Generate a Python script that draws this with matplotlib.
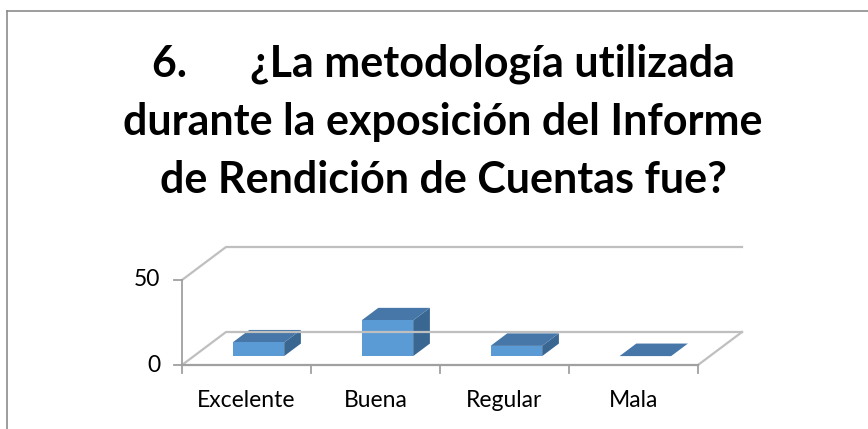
import matplotlib
matplotlib.use('Agg')
import matplotlib.pyplot as plt
from matplotlib.patches import Polygon
from matplotlib.lines import Line2D

# datos del grafico
categories = ['Excelente', 'Buena', 'Regular', 'Mala']
values = [8, 21, 6, 0]
y_ticks = [0, 50]
title_lines = ['6.      ¿La metodología utilizada',
               'durante la exposición del Informe',
               'de Rendición de Cuentas fue?']

W, H = 868, 429

# geometria de la vista "3D" (en unidades de datos)
X0_PX, CAT_PX = 182, 129        # eje de valores y ancho de categoria en pixeles
Y0_PX, UNIT_PX = 64, 85 / 50    # linea del cero (desde abajo) y pixeles por unidad
DX, DY = 44 / CAT_PX, 33 / UNIT_PX   # profundidad del piso
Z0, Z1 = 0.27, 0.65             # profundidad de la barra (frente, fondo)
BAR_W = 0.40

front_col = '#5B9BD5'
top_col = '#4677A8'
side_col = '#3A6692'
grid_col = '#BFBFBF'
axis_col = '#A0A0A0'

fig = plt.figure(figsize=(W / 100, H / 100), dpi=100)
ax = fig.add_axes([0, 0, 1, 1])
ax.set_xlim(-X0_PX / CAT_PX, (W - X0_PX) / CAT_PX)
ax.set_ylim(-Y0_PX / UNIT_PX, (H - Y0_PX) / UNIT_PX)
ax.axis('off')

n = len(categories)
ymax = y_ticks[-1]

# paredes: lineas de la cuadricula
for t in y_ticks:
    ax.plot([0, DX, n + DX], [t, t + DY, t + DY], color=grid_col, lw=1.6,
            solid_joinstyle='miter')
ax.plot([n, n + DX], [0, DY], color=grid_col, lw=1.6)

# eje de valores
ax.plot([0, 0], [0, ymax], color=axis_col, lw=1.3)
for t in y_ticks:
    ax.plot([-8 / CAT_PX, 0], [t, t], color=axis_col, lw=1.3)
    ax.text(-22 / CAT_PX, t, str(t), ha='right', va='center', fontsize=16.5,
            family='Lato', color='black')

# eje de categorias
ax.plot([0, n], [0, 0], color=axis_col, lw=1.6)
for i in range(n + 1):
    ax.plot([i, i], [0, -8 / UNIT_PX], color=axis_col, lw=1.3)
for i, c in enumerate(categories):
    ax.text(i + 0.5, -42 / UNIT_PX, c, ha='center', va='baseline', fontsize=16.5,
            family='Lato', color='black')

# barras: cara frontal con ax.bar, techo y lateral con poligonos
base = Z0 * DY
bdx, bdy = (Z1 - Z0) * DX, (Z1 - Z0) * DY
xs = [i + 0.5 + Z0 * DX for i in range(n)]
for x, v in zip(xs, values):
    xl, xr = x - BAR_W / 2, x + BAR_W / 2
    top = base + v
    if v > 0:
        ax.add_patch(Polygon([(xr, base), (xr, top), (xr + bdx, top + bdy),
                              (xr + bdx, base + bdy)], closed=True,
                             facecolor=side_col, edgecolor='none'))
    ax.add_patch(Polygon([(xl, top), (xr, top), (xr + bdx, top + bdy),
                          (xl + bdx, top + bdy)], closed=True,
                         facecolor=top_col, edgecolor='none'))
ax.bar(xs, values, width=BAR_W, bottom=base, color=front_col, linewidth=0)

# titulo
baselines = [77, 135, 193]
for line, yb in zip(title_lines, baselines):
    fig.text(443 / W, 1 - yb / H, line, ha='center', va='baseline',
             fontsize=31, fontweight='bold', family='Lato', color='black')

# borde del area del grafico
fig.add_artist(Line2D([7 / W, 1], [1 - 11 / H, 1 - 11 / H], color='#8C8C8C', lw=1.2))
fig.add_artist(Line2D([7 / W, 7 / W], [0, 1 - 11 / H], color='#8C8C8C', lw=1.2))

fig.savefig('out.png', dpi=100)
